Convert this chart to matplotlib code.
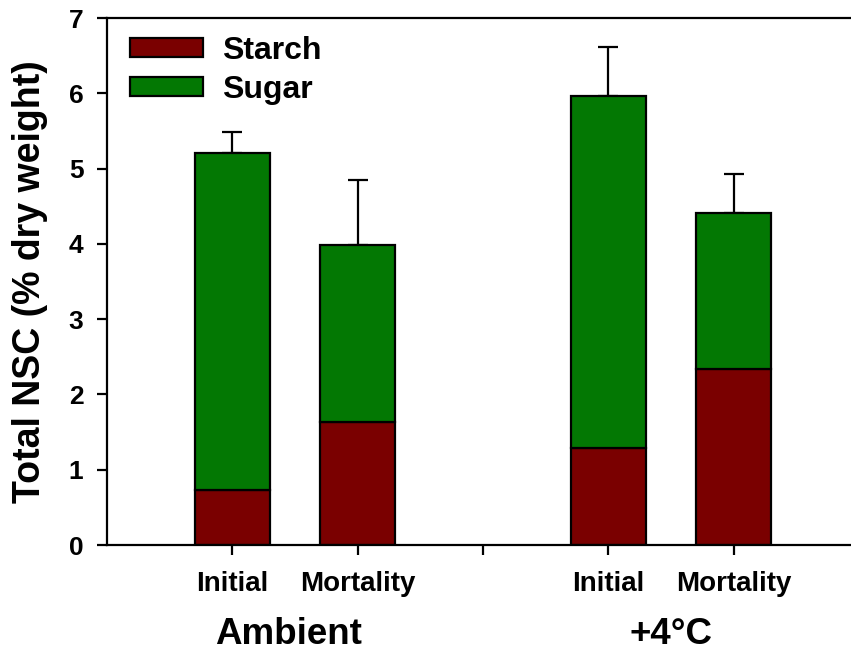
import matplotlib.pyplot as plt
import numpy as np

plt.rcParams['font.family'] = ['Liberation Sans', 'DejaVu Sans']
plt.rcParams['font.weight'] = 'bold'

# data
stages = ["Initial", "Mortality", "Initial", "Mortality"]
groups = ["Ambient", "+4°C"]
starch = [0.73, 1.63, 1.29, 2.34]
sugar = [4.48, 2.35, 4.67, 2.07]
err_up = [0.27, 0.87, 0.65, 0.52]

x_pos = [0, 1, 3, 4]
starch_color = '#7a0000'
sugar_color = '#037803'

fig = plt.figure(figsize=(8.51, 6.67), dpi=100)
# right edge of the axes sits outside the figure like in the original crop
ax = fig.add_axes([0.1257, 0.1829, 0.8837, 0.790])

ax.bar(x_pos, starch, width=0.6, color=starch_color, edgecolor='black',
       linewidth=1.6, label='Starch', zorder=2)
ax.bar(x_pos, sugar, width=0.6, bottom=starch, color=sugar_color, edgecolor='black',
       linewidth=1.6, label='Sugar', zorder=2)

totals = np.array(starch) + np.array(sugar)
ax.errorbar(x_pos, totals, yerr=[np.zeros(len(err_up)), err_up], fmt='none',
            ecolor='black', elinewidth=1.6, capsize=7, capthick=1.6, zorder=1)

ax.set_xlim(-1, 5)
ax.set_ylim(0, 7)
ax.set_yticks(range(0, 8))
ax.set_xticks([0, 1, 2, 3, 4])
ax.set_xticklabels([stages[0], stages[1], "", stages[2], stages[3]])

for s in ax.spines.values():
    s.set_linewidth(1.6)

ax.tick_params(axis='y', direction='out', length=7, width=1.6, labelsize=19, pad=10)
ax.tick_params(axis='x', direction='out', length=7, width=1.6, labelsize=20, pad=12)
for lbl in ax.get_yticklabels() + ax.get_xticklabels():
    lbl.set_fontweight('bold')

ax.set_ylabel("Total NSC (% dry weight)", fontsize=27, fontweight='bold')
ax.yaxis.set_label_coords(-0.078, 0.5)

# group labels under the stage labels
ax.text(0.45, -0.17, groups[0], transform=ax.get_xaxis_transform(), ha='center',
        va='center', fontsize=26.5, fontweight='bold')
ax.text(3.5, -0.17, groups[1], transform=ax.get_xaxis_transform(), ha='center',
        va='center', fontsize=26.5, fontweight='bold')

leg = ax.legend(loc='upper left', bbox_to_anchor=(0.03, 0.966), frameon=False,
                fontsize=23, handlelength=2.3, handleheight=0.52,
                handletextpad=0.6, labelspacing=0.28, borderaxespad=0, borderpad=0)
for t in leg.get_texts():
    t.set_fontweight('bold')
for h in leg.legend_handles:
    h.set_linewidth(1.6)

fig.savefig("out.png", dpi=100)
